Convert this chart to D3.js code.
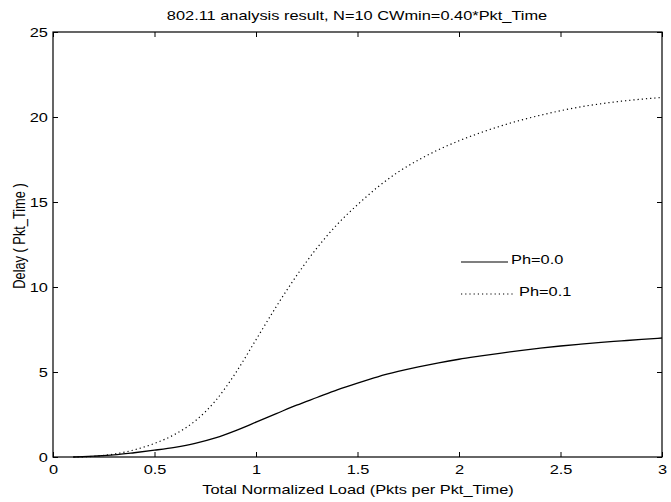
<!DOCTYPE html>
<html>
<head>
<meta charset="utf-8">
<script src="https://cdn.jsdelivr.net/npm/d3@7"></script>
<style>
  html, body { margin: 0; padding: 0; background: #fff; }
  svg text { font-family: "Liberation Sans", Arial, Helvetica, sans-serif; fill: #000; }
</style>
</head>
<body>
<svg id="chart" width="671" height="502"></svg>
<script>
// ---- data ----
const loads = [0.1,0.2,0.3,0.4,0.5,0.6,0.7,0.8,0.9,1.0,1.1,1.2,1.3,1.4,1.5,1.6,1.7,1.8,1.9,2.0,2.1,2.2,2.3,2.4,2.5,2.6,2.7,2.8,2.9,3.0];
const delayPh00 = [0.0,0.05,0.12,0.25,0.40,0.57,0.80,1.12,1.55,2.05,2.55,3.05,3.5,3.95,4.35,4.72,5.03,5.3,5.54,5.75,5.93,6.1,6.26,6.4,6.53,6.64,6.74,6.83,6.92,7.0];
const delayPh01 = [0.0,0.04,0.17,0.42,0.8,1.33,2.12,3.3,4.95,6.9,8.85,10.67,12.29,13.68,14.84,15.88,16.76,17.47,18.08,18.6,19.05,19.45,19.8,20.1,20.37,20.6,20.78,20.93,21.05,21.15];
const xTicks = [0,0.5,1,1.5,2,2.5,3];
const yTicks = [0,5,10,15,20,25];
const seriesNames = ["Ph=0.0","Ph=0.1"];
const titleText = "802.11 analysis result, N=10 CWmin=0.40*Pkt_Time";
const xLabel = "Total Normalized Load (Pkts per Pkt_Time)";
const yLabel = "Delay ( Pkt_Time )";

// ---- layout ----
const SX = 1.28;   // horizontal stretch of the scanned text
const FS = 12.8;
const svg = d3.select("#chart");
const L = 53, R = 662, T = 32, B = 457;
const x = d3.scaleLinear().domain([0,3]).range([L,R]);
const y = d3.scaleLinear().domain([0,25]).range([B,T]);

svg.append("rect").attr("x",L).attr("y",T).attr("width",R-L).attr("height",B-T)
  .attr("fill","none").attr("stroke","#000").attr("stroke-width",1.2);

const tickLen = 5;
const fmt = d => String(d);
const xb = svg.append("g").attr("transform",`translate(0,${B})`)
  .call(d3.axisBottom(x).tickValues(xTicks).tickFormat(fmt).tickSizeInner(-tickLen).tickSizeOuter(0).tickPadding(8));
const xt = svg.append("g").attr("transform",`translate(0,${T})`)
  .call(d3.axisTop(x).tickValues(xTicks).tickFormat("").tickSizeInner(-tickLen).tickSizeOuter(0));
const yl = svg.append("g").attr("transform",`translate(${L},0)`)
  .call(d3.axisLeft(y).tickValues(yTicks).tickFormat(fmt).tickSizeInner(-tickLen).tickSizeOuter(0).tickPadding(4));
const yr = svg.append("g").attr("transform",`translate(${R},0)`)
  .call(d3.axisRight(y).tickValues(yTicks).tickFormat("").tickSizeInner(-tickLen).tickSizeOuter(0));

[xb,xt,yl,yr].forEach(g => {
  g.select(".domain").remove();
  g.selectAll(".tick line").attr("stroke","#000").attr("stroke-width",1);
  g.selectAll(".tick text").attr("font-size",FS)
    .attr("font-family","'Liberation Sans', Arial, sans-serif")
    .attr("transform",`scale(${SX},1)`);
});

// lines
const lineGen = d3.line().x((d,i)=>x(loads[i])).y(d=>y(d)).curve(d3.curveMonotoneX);
svg.append("path").datum(delayPh00).attr("d",lineGen)
  .attr("fill","none").attr("stroke","#000").attr("stroke-width",1.3);
svg.append("path").datum(delayPh01).attr("d",lineGen)
  .attr("fill","none").attr("stroke","#000").attr("stroke-width",1.2)
  .attr("stroke-dasharray","1.2,3");

// legend
const legend = [
  {name: seriesNames[0], x1: 461, x2: 508, y: 262, dash: null, tx: 511, ty: 264},
  {name: seriesNames[1], x1: 461, x2: 514, y: 294, dash: "1.2,3", tx: 519, ty: 296}
];
legend.forEach(l => {
  svg.append("line").attr("x1",l.x1).attr("x2",l.x2).attr("y1",l.y).attr("y2",l.y)
    .attr("stroke","#000").attr("stroke-width",1.2).attr("stroke-dasharray",l.dash);
  svg.append("text").attr("transform",`translate(${l.tx},${l.ty}) scale(${SX},1)`)
    .attr("font-size",FS).text(l.name);
});

// title and axis labels
svg.append("text").attr("transform",`translate(357,20) scale(${SX},1)`).attr("text-anchor","middle")
  .attr("font-size",FS).text(titleText);
svg.append("text").attr("transform",`translate(358,494) scale(${SX},1)`).attr("text-anchor","middle")
  .attr("font-size",FS).text(xLabel);
svg.append("text").attr("transform",`translate(25,236) scale(${SX},1) rotate(-90)`)
  .attr("text-anchor","middle").attr("font-size",FS).text(yLabel);
</script>
</body>
</html>
